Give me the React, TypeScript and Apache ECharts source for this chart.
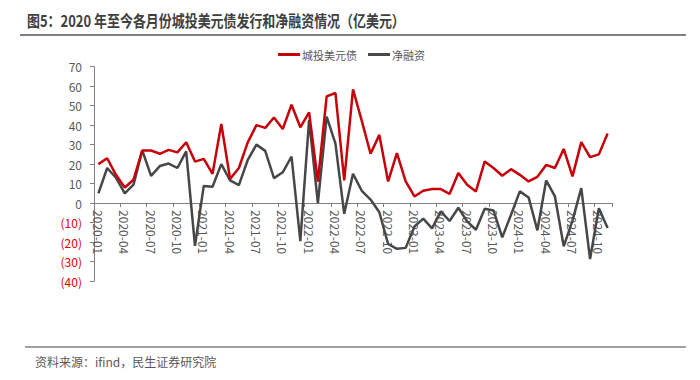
import React, { useEffect, useRef } from "react";
import * as echarts from "echarts";

const years = [2020, 2021, 2022, 2023, 2024];
const months = ["01", "02", "03", "04", "05", "06", "07", "08", "09", "10", "11", "12"];
const categories: string[] = [];
years.forEach((y) => months.forEach((m) => categories.push(`${y}-${m}`)));
categories.splice(59);

const issuance = [
  20, 23, 14.5, 8, 12, 27, 27, 25.3, 27.3, 26, 31.2, 21.3,
  22.7, 15, 40.6, 12.4, 18, 31, 40, 38.6, 43.9, 38, 50.5, 38.9,
  46.6, 11, 54.8, 56.5, 11.7, 58.4, 42.2, 25.3, 35, 11.1, 25.6, 11.2,
  3.4, 6.3, 7.2, 7.2, 4.7, 15.4, 9.4, 6, 21.4, 18, 14, 17.4,
  14.5, 11.1, 13.5, 19.6, 18, 27.8, 13.7, 31.3, 23.6, 25, 35.7,
];

const netFinancing = [
  5, 18, 13, 5, 9.5, 27, 14, 19, 20.3, 18, 26.5, -22,
  8.8, 8.4, 20, 11.6, 9.2, 22, 30, 26.8, 12.8, 15.8, 23.9, -19.5,
  42.7, 0, 44.4, 30.5, -5.5, 15, 6.3, 1.8, -4.7, -21, -23.5, -23,
  -12, -8, -13, -4.3, -9.2, -2.4, -9.4, -13.7, -2.9, -3.8, -17.6, -6,
  6, 2.9, -14, 11.6, 3.4, -22.2, -9, 7.7, -28.7, -2.6, -12.8,
];

const seriesNames = ["城投美元债", "净融资"];
const titleText = "图5：2020 年至今各月份城投美元债发行和净融资情况（亿美元）";
const sourceText = "资料来源：ifind，民生证券研究院";

const FONT = '"Noto Sans CJK SC", "Noto Sans", sans-serif';

const Y_MIN = -40;
const Y_MAX = 70;
const GRID_TOP = 66.7;
const GRID_BOTTOM = 99;
const CHART_H = 380;

export default function App() {
  const ref = useRef<HTMLDivElement>(null);
  useEffect(() => {
    document.body.style.margin = "0";
    if (!ref.current) return;
    const chart = echarts.init(ref.current, null, { renderer: "svg" });
    const plotH = CHART_H - GRID_TOP - GRID_BOTTOM;
    const zeroFromBottom = (-Y_MIN / (Y_MAX - Y_MIN)) * plotH;
    chart.setOption({
      animation: false,
      backgroundColor: "#ffffff",
      textStyle: { fontFamily: FONT },
      graphic: [
        {
          type: "text",
          x: 27,
          y: 12,
          scaleX: 0.81,
          style: {
            text: titleText,
            font: `bold 16px ${FONT}`,
            fill: "#404040",
          },
        },
        {
          type: "line",
          shape: { x1: 20, y1: 35, x2: 686, y2: 35 },
          style: { stroke: "#808080", lineWidth: 2 },
        },
        {
          type: "line",
          shape: { x1: 25, y1: 347, x2: 686, y2: 347 },
          style: { stroke: "#808080", lineWidth: 1.5 },
        },
        {
          type: "text",
          x: 35,
          y: 355,
          style: {
            text: sourceText,
            font: `12px ${FONT}`,
            fill: "#595959",
          },
        },
      ],
      legend: {
        left: 278,
        top: 49,
        padding: 0,
        itemWidth: 22,
        itemHeight: 3,
        itemGap: 11,
        icon: "rect",
        textStyle: { fontSize: 11, color: "#595959", fontFamily: FONT, padding: [0, 0, 0, -3] },
        data: seriesNames,
      },
      grid: { left: 94, right: 88, top: GRID_TOP, bottom: GRID_BOTTOM },
      xAxis: {
        type: "category",
        data: categories,
        boundaryGap: true,
        position: "bottom",
        offset: -zeroFromBottom,
        axisLine: { onZero: false, lineStyle: { color: "#808080", width: 1 } },
        axisTick: { show: true, interval: 2, length: 4, lineStyle: { color: "#808080" } },
        axisLabel: {
          interval: 2,
          rotate: -90,
          margin: 7,
          fontSize: 12,
          color: "#595959",
          fontFamily: FONT,
        },
        splitLine: { show: false },
      },
      yAxis: {
        type: "value",
        min: Y_MIN,
        max: Y_MAX,
        interval: 10,
        axisLine: { show: true, lineStyle: { color: "#808080", width: 1 } },
        axisTick: { show: true, length: 4, lineStyle: { color: "#808080" } },
        splitLine: { show: false },
        axisLabel: {
          margin: 12,
          fontSize: 12,
          fontFamily: FONT,
          formatter: (v: number) => (v < 0 ? `(${-v})` : `${v}`),
          color: (v: any) => (Number(v) < 0 ? "#E00000" : "#595959"),
        },
      },
      series: [
        {
          name: seriesNames[0],
          type: "line",
          data: issuance,
          symbol: "none",
          lineStyle: { color: "#C8000A", width: 2.5 },
          itemStyle: { color: "#C8000A" },
          z: 3,
        },
        {
          name: seriesNames[1],
          type: "line",
          data: netFinancing,
          symbol: "none",
          lineStyle: { color: "#474747", width: 2.5 },
          itemStyle: { color: "#474747" },
          z: 2,
        },
      ],
    });
    return () => chart.dispose();
  }, []);
  return <div ref={ref} style={{ width: 700, height: 380 }} />;
}
